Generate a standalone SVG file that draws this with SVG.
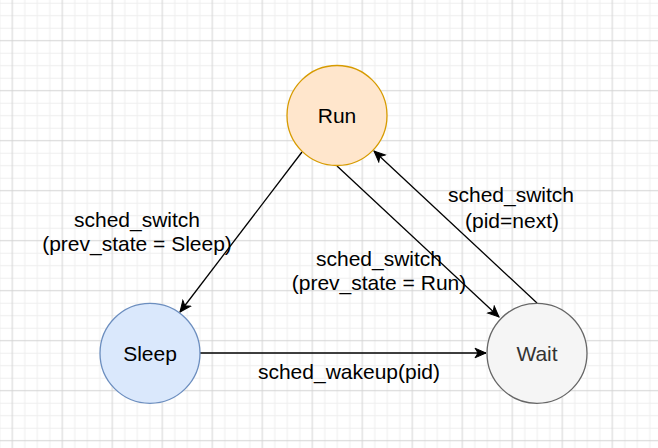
<svg xmlns="http://www.w3.org/2000/svg" width="658" height="448" viewBox="0 0 658 448">
  <style>
    .node-text { font-family: "Liberation Sans", Arial, sans-serif; font-size: 21px; text-anchor: middle; fill: #000000; }
    .label { font-family: "Liberation Sans", Arial, sans-serif; font-size: 21px; text-anchor: middle; fill: #000000; }
    .edge { fill: none; stroke: #000000; stroke-width: 1.3; }
  </style>
  <defs>
    <pattern id="grid" x="-6.45" y="-3.05" width="50" height="50" patternUnits="userSpaceOnUse">
      <path d="M6.25,0 V50 M31.25,0 V50 M43.75,0 V50 M0,6.25 H50 M0,18.75 H50 M0,31.25 H50" stroke="#eeeeee" stroke-width="1" fill="none"/>
      <path d="M18.75,0 V50 M0,43.75 H50" stroke="#d4d4d4" stroke-width="1" fill="none"/>
    </pattern>
    <marker id="arrow" markerUnits="userSpaceOnUse" viewBox="-12 -6 13 12" refX="0" refY="0" markerWidth="13" markerHeight="12" orient="auto">
      <path d="M0,0 L-11,-4.8 L-8,0 L-11,4.8 Z" fill="#000000" stroke="#000000" stroke-width="1"/>
    </marker>
  </defs>
  <rect x="0" y="0" width="658" height="448" fill="#ffffff"/>
  <rect x="0" y="0" width="658" height="448" fill="url(#grid)"/>

  <g id="connectors">
    <g id="edge-run-sleep">
      <path class="edge" d="M302,152 L180,312" marker-end="url(#arrow)"/>
      <text class="label" x="137" y="227">sched_switch</text>
      <text class="label" x="137" y="251">(prev_state = Sleep)</text>
    </g>
    <g id="edge-run-wait">
      <path class="edge" d="M337,166 L499,317" marker-end="url(#arrow)"/>
      <text class="label" x="379" y="266">sched_switch</text>
      <text class="label" x="379" y="290">(prev_state = Run)</text>
    </g>
    <g id="edge-wait-run">
      <path class="edge" d="M537,303 L374,151" marker-end="url(#arrow)"/>
      <text class="label" x="511" y="202">sched_switch</text>
      <text class="label" x="512" y="228">(pid=next)</text>
    </g>
    <g id="edge-sleep-wait">
      <path class="edge" d="M200,353 L486,353" marker-end="url(#arrow)"/>
      <text class="label" x="349" y="379">sched_wakeup(pid)</text>
    </g>
  </g>

  <g id="node-run">
    <circle cx="337" cy="115.5" r="50" fill="#ffe6cc" stroke="#d79b00" stroke-width="1.3"/>
    <text class="node-text" x="337" y="123">Run</text>
  </g>
  <g id="node-sleep">
    <circle cx="150" cy="353.3" r="50" fill="#dae8fc" stroke="#6c8ebf" stroke-width="1.3"/>
    <text class="node-text" x="150" y="360.8">Sleep</text>
  </g>
  <g id="node-wait">
    <circle cx="537" cy="353.3" r="50" fill="#f5f5f5" stroke="#666666" stroke-width="1.3"/>
    <text class="node-text" x="537" y="360.8" style="fill:#333333">Wait</text>
  </g>
</svg>
